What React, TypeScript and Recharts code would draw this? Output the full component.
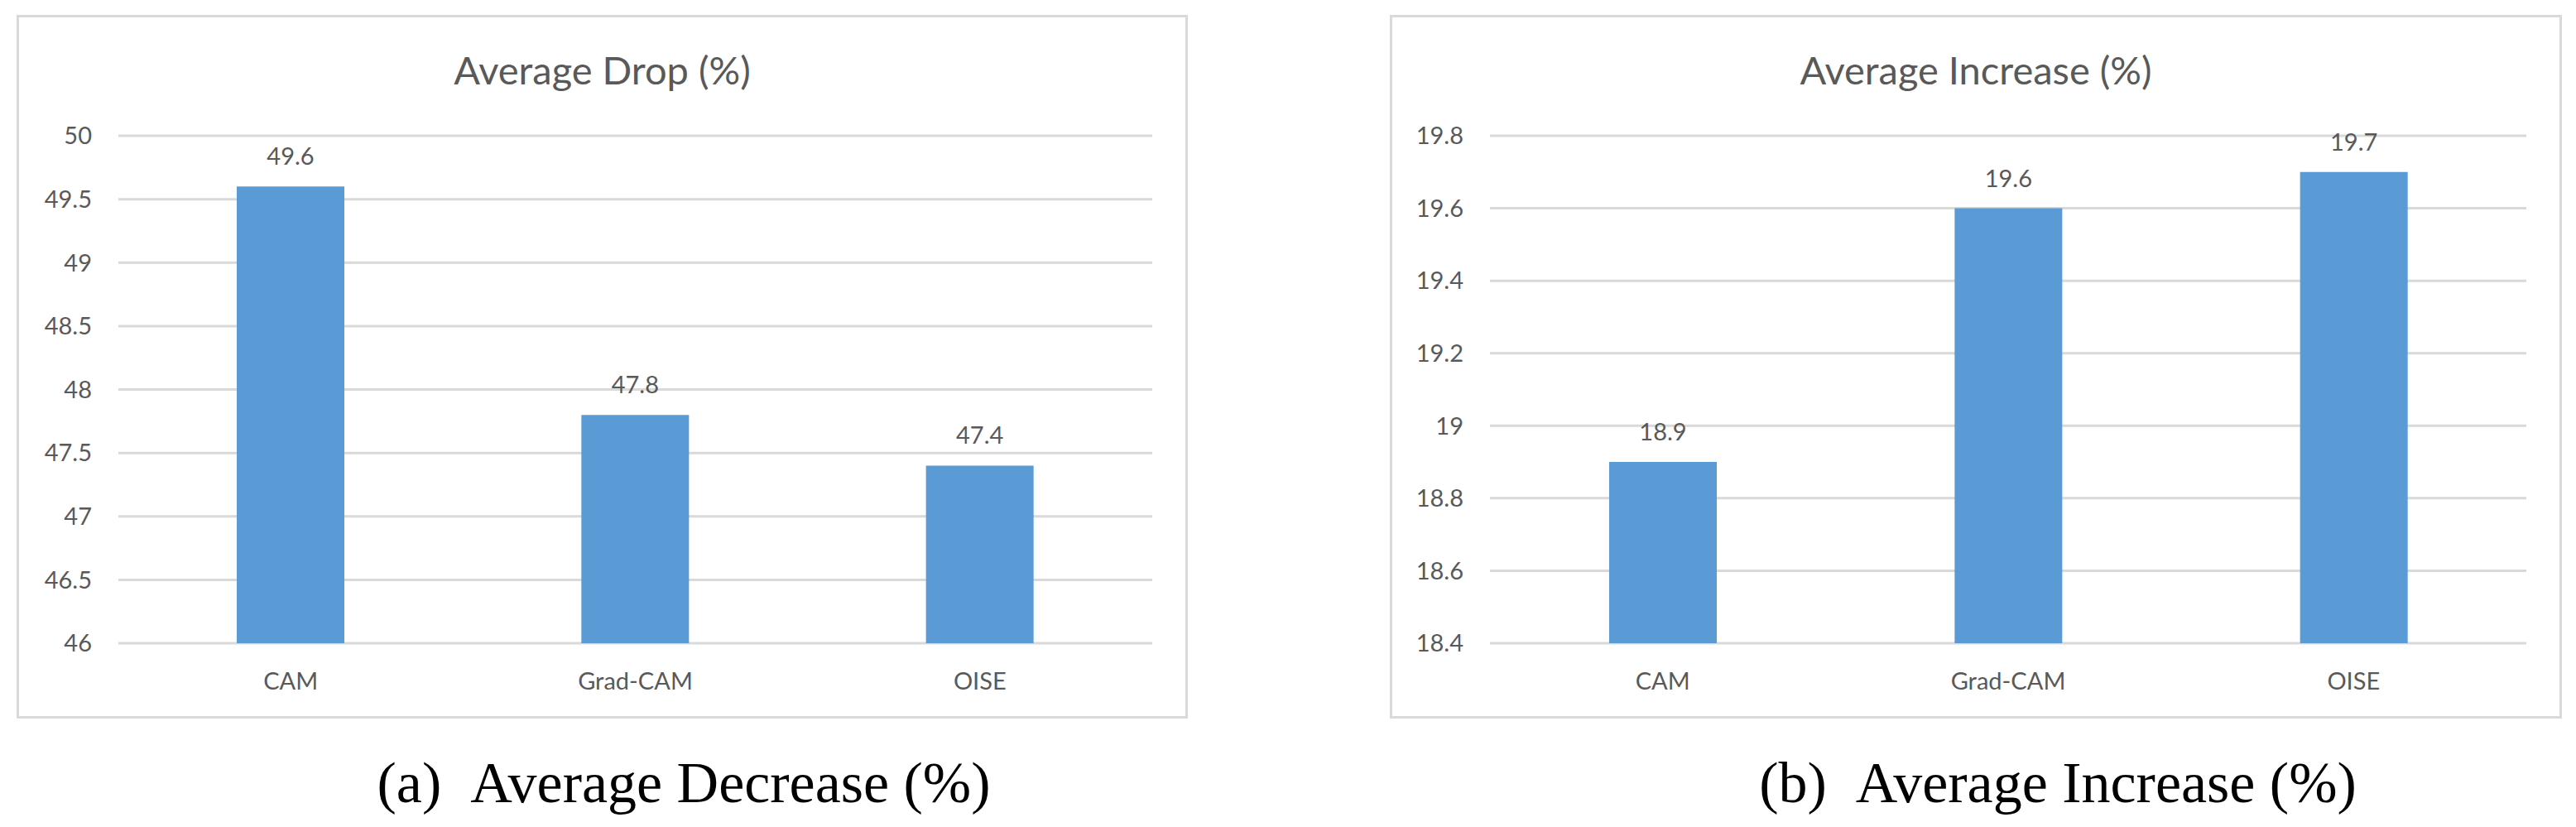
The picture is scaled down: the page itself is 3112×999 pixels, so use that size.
import React from 'react';
import { BarChart, Bar, XAxis, YAxis, CartesianGrid, LabelList } from 'recharts';

const methods = ['CAM', 'Grad-CAM', 'OISE'];
const dropValues = [49.6, 47.8, 47.4];
const increaseValues = [18.9, 19.6, 19.7];
const dropTicks = [46, 46.5, 47, 47.5, 48, 48.5, 49, 49.5, 50];
const increaseTicks = [18.4, 18.6, 18.8, 19, 19.2, 19.4, 19.6, 19.8];

const BLUE = '#5B9BD5';
const GRID = '#D9D9D9';
const TXT = '#595959';
const FONT = 'Lato, "Open Sans", sans-serif';

const fmt = (v: number) => String(Number(v.toFixed(1)));

interface PanelProps {
  left: number;
  width: number;
  marginLeft: number;
  title: string;
  values: number[];
  ticks: number[];
}

const Panel: React.FC<PanelProps> = ({ left, width, marginLeft, title, values, ticks }) => {
  const data = methods.map((m, i) => ({ name: m, value: values[i] }));
  return (
    <div
      style={{
        position: 'absolute',
        left,
        top: 18,
        width,
        height: 850,
        boxSizing: 'border-box',
        border: `3px solid ${GRID}`,
        background: '#fff',
      }}
    >
      <svg style={{ position: 'absolute', left: -3, top: -3 }} width={width} height={120}>
        <text x={width / 2} y={84} textAnchor="middle" fontFamily={FONT} fontSize={47} fill={TXT}>
          {title}
        </text>
      </svg>
      <div style={{ position: 'absolute', left: -3, top: -3 }}>
        <BarChart
          width={width}
          height={850}
          data={data}
          margin={{ top: 146, right: 43, bottom: 21, left: marginLeft }}
        >
          <CartesianGrid vertical={false} stroke={GRID} strokeWidth={3} />
          <XAxis
            dataKey="name"
            axisLine={false}
            tickLine={false}
            tickSize={0}
            tickMargin={35}
            height={70}
            tick={{ fill: TXT, fontSize: 29, fontFamily: FONT }}
          />
          <YAxis
            type="number"
            domain={[ticks[0], ticks[ticks.length - 1]]}
            ticks={ticks}
            interval={0}
            axisLine={false}
            tickLine={false}
            tickSize={0}
            tickMargin={32}
            width={100}
            tickFormatter={fmt}
            tick={{ fill: TXT, fontSize: 29, fontFamily: FONT }}
          />
          <Bar dataKey="value" fill={BLUE} barSize={130} isAnimationActive={false}>
            <LabelList
              dataKey="value"
              position="top"
              offset={26}
              fill={TXT}
              fontSize={29}
              fontFamily={FONT}
              formatter={(v: number) => fmt(v)}
            />
          </Bar>
        </BarChart>
      </div>
    </div>
  );
};

const App: React.FC = () => {
  return (
    <div style={{ position: 'absolute', left: 0, top: 0, width: 3112, height: 999, background: '#fff' }}>
      <Panel left={20} width={1415} marginLeft={23} title="Average Drop (%)" values={dropValues} ticks={dropTicks} />
      <Panel left={1679} width={1416} marginLeft={21} title="Average Increase (%)" values={increaseValues} ticks={increaseTicks} />
      <svg style={{ position: 'absolute', left: 0, top: 880 }} width={3112} height={119}>
        <text x={826} y={89} textAnchor="middle" fontFamily='"Liberation Serif", serif' fontSize={70} fill="#000">
          {'(a)\u00A0\u00A0Average Decrease (%)'}
        </text>
        <text x={2486} y={89} textAnchor="middle" fontFamily='"Liberation Serif", serif' fontSize={70} fill="#000">
          {'(b)\u00A0\u00A0Average Increase (%)'}
        </text>
      </svg>
    </div>
  );
};

export default App;
